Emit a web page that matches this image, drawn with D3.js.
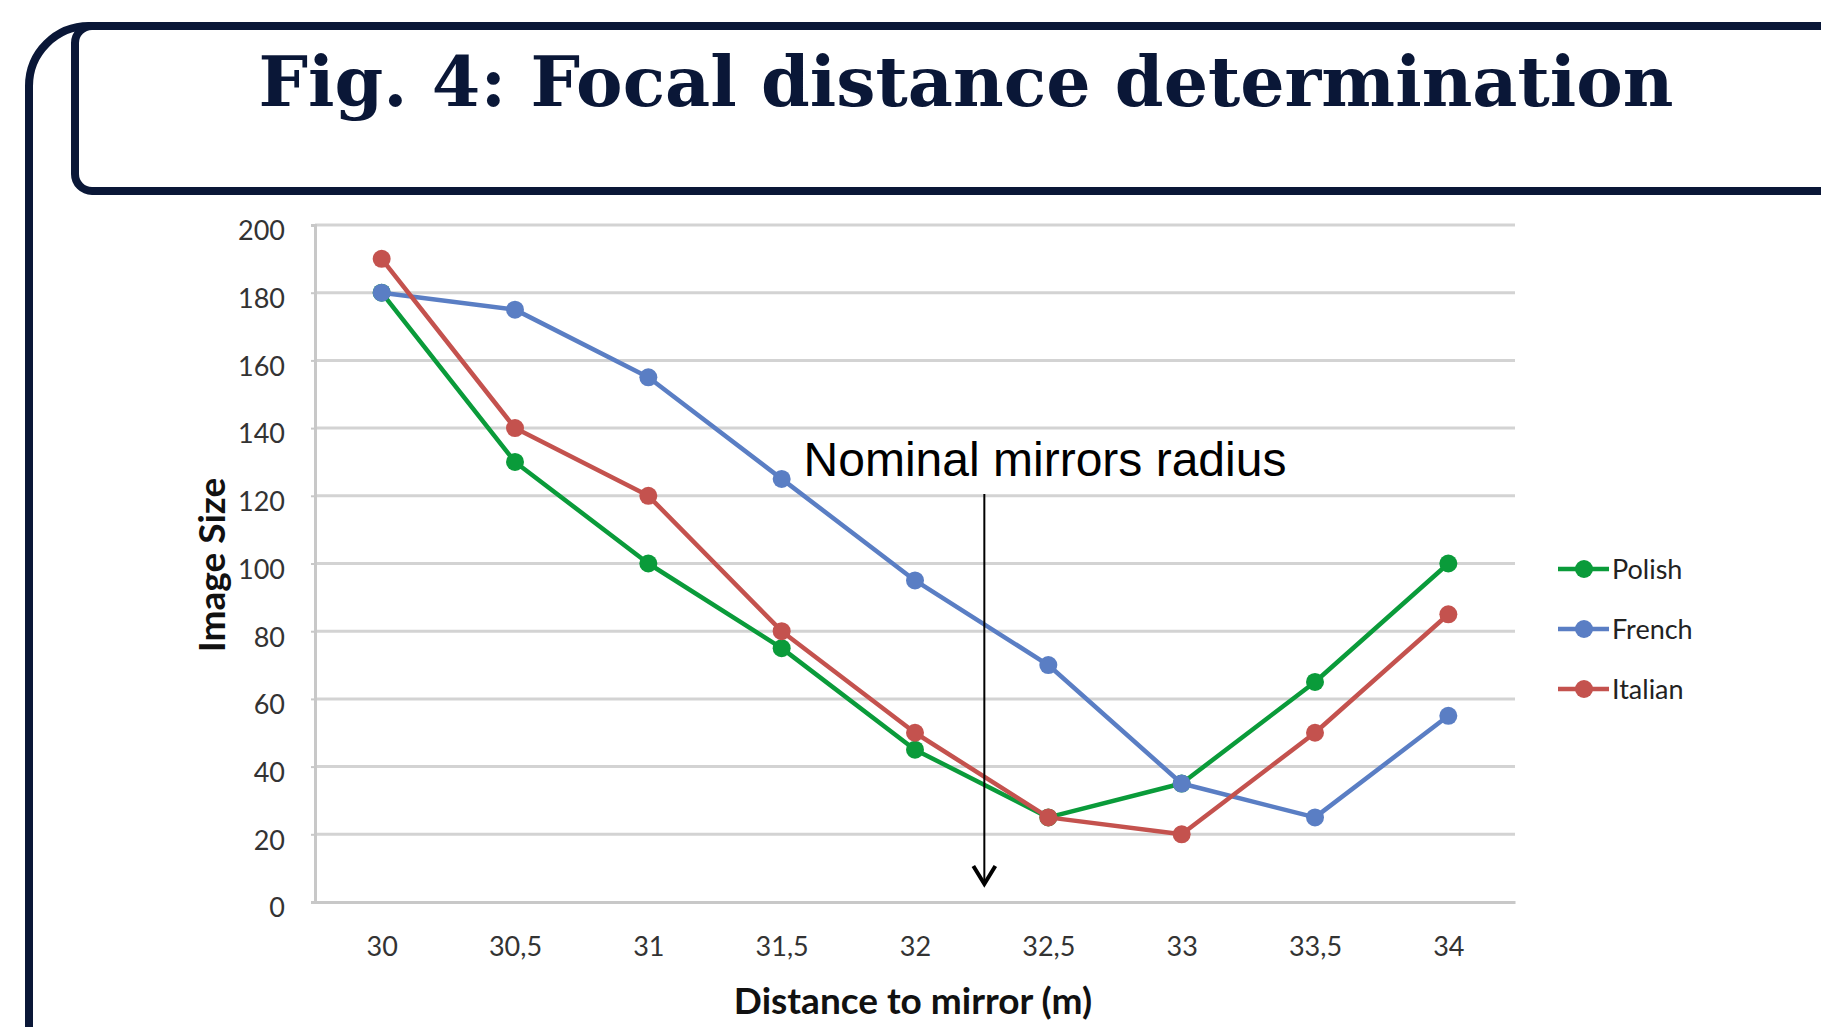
<!DOCTYPE html>
<html><head><meta charset="utf-8">
<script src="https://cdn.jsdelivr.net/npm/d3@7"></script>
<style>html,body{margin:0;padding:0;background:#fff;overflow:hidden}</style>
</head><body><svg id="c" width="1821" height="1027"></svg>
<script>
const distances = [30, 30.5, 31, 31.5, 32, 32.5, 33, 33.5, 34];
const tickLabels = ["30", "30,5", "31", "31,5", "32", "32,5", "33", "33,5", "34"];
const polish = [180, 130, 100, 75, 45, 25, 35, 65, 100];
const french = [180, 175, 155, 125, 95, 70, 35, 25, 55];
const italian = [190, 140, 120, 80, 50, 25, 20, 50, 85];
const seriesNames = ["Polish", "French", "Italian"];
const seriesColors = ["#0a9b3a", "#5a7ec4", "#c4524e"];
const yTicks = [0, 20, 40, 60, 80, 100, 120, 140, 160, 180, 200];
const nominalRadius = 32.26;
const annotation = "Nominal mirrors radius";
const title = "Fig. 4: Focal distance determination";

const svg = d3.select("#c");
const navy = "#0a1737";

// frame
svg.append("path")
  .attr("d", "M29,1100 L29,86 A60,60 0 0 1 89,26 L1900,26")
  .attr("fill", "none").attr("stroke", navy).attr("stroke-width", 8);
svg.append("rect").attr("x", 75).attr("y", 26).attr("width", 2000).attr("height", 165)
  .attr("rx", 17).attr("fill", "none").attr("stroke", navy).attr("stroke-width", 8);

svg.append("text").attr("x", 966).attr("y", 106).attr("text-anchor", "middle")
  .attr("font-family", "DejaVu Serif").attr("font-weight", "bold").attr("font-size", 70)
  .attr("textLength", 1415).attr("lengthAdjust", "spacingAndGlyphs")
  .attr("fill", navy).text(title);

const x = d3.scaleLinear().domain([29.75, 34.25]).range([315, 1515]);
const y = d3.scaleLinear().domain([0, 200]).range([902, 225]);

const g = svg.append("g");
// gridlines
g.selectAll("line.grid").data(yTicks.slice(1)).join("line")
  .attr("x1", x(29.75)).attr("x2", x(34.25))
  .attr("y1", d => y(d)).attr("y2", d => y(d))
  .attr("stroke", "#d3d3d3").attr("stroke-width", 3);

// axes
const yAxis = d3.axisLeft(y).tickValues(yTicks).tickSize(4).tickPadding(26);
const ya = g.append("g").attr("transform", `translate(${x(29.75)},0)`).call(yAxis);
ya.select(".domain").attr("stroke", "#c8c8c8").attr("stroke-width", 3);
ya.selectAll(".tick line").attr("stroke", "#c8c8c8").attr("stroke-width", 2);
ya.selectAll(".tick text").attr("font-family", "Lato").attr("font-size", 27)
  .attr("fill", "#333").attr("dy", "0.55em");

const xAxis = d3.axisBottom(x).tickValues(distances).tickFormat((d, i) => tickLabels[i]).tickSize(0).tickPadding(35);
const xa = g.append("g").attr("transform", `translate(0,${y(0)})`).call(xAxis);
xa.select(".domain").attr("stroke", "#c8c8c8").attr("stroke-width", 3);
xa.selectAll(".tick text").attr("font-family", "Lato").attr("font-size", 27).attr("fill", "#333");

// axis titles
svg.append("text").attr("transform", "translate(225,565) rotate(-90)").attr("text-anchor", "middle")
  .attr("font-family", "Lato").attr("font-weight", "bold").attr("font-size", 37).attr("fill", "#111")
  .text("Image Size");
svg.append("text").attr("x", 913).attr("y", 1014).attr("text-anchor", "middle")
  .attr("font-family", "Lato").attr("font-weight", "bold").attr("font-size", 37).attr("fill", "#111")
  .text("Distance to mirror (m)");

// series
const series = [polish, french, italian];
const line = d3.line().x((d, i) => x(distances[i])).y(d => y(d));
series.forEach((s, k) => {
  const sg = g.append("g");
  sg.append("path").datum(s).attr("d", line).attr("fill", "none")
    .attr("stroke", seriesColors[k]).attr("stroke-width", 4.5).attr("stroke-linejoin", "round");
  sg.selectAll("circle").data(s).join("circle")
    .attr("cx", (d, i) => x(distances[i])).attr("cy", d => y(d)).attr("r", 9)
    .attr("fill", seriesColors[k]);
});

// annotation
svg.append("text").attr("x", 1045).attr("y", 476).attr("text-anchor", "middle")
  .attr("font-family", "Liberation Sans").attr("font-size", 48).attr("fill", "#000")
  .text(annotation);
const ax = x(nominalRadius);
svg.append("line").attr("x1", ax).attr("x2", ax).attr("y1", 494).attr("y2", 884)
  .attr("stroke", "#000").attr("stroke-width", 2);
svg.append("path").attr("d", `M${ax - 11},866 L${ax},884 L${ax + 11},866`)
  .attr("fill", "none").attr("stroke", "#000").attr("stroke-width", 4).attr("stroke-linejoin", "miter");

// legend
const lg = svg.append("g");
seriesNames.forEach((n, k) => {
  const ly = 569 + k * 60;
  lg.append("line").attr("x1", 1558).attr("x2", 1609).attr("y1", ly).attr("y2", ly)
    .attr("stroke", seriesColors[k]).attr("stroke-width", 4.5);
  lg.append("circle").attr("cx", 1584).attr("cy", ly).attr("r", 9).attr("fill", seriesColors[k]);
  lg.append("text").attr("x", 1612).attr("y", ly).attr("dy", "0.36em")
    .attr("font-family", "Lato").attr("font-size", 27).attr("fill", "#222").text(n);
});
</script></body></html>
